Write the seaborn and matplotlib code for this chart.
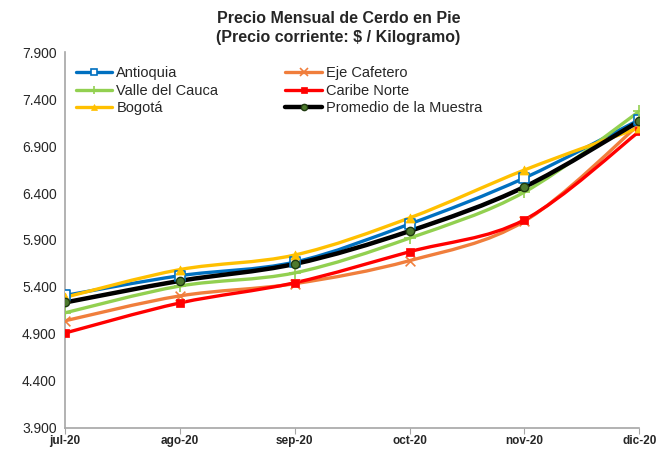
import numpy as np
import pandas as pd
import seaborn as sns
import matplotlib
matplotlib.use("Agg")
import matplotlib.pyplot as plt
from matplotlib.path import Path
from matplotlib.patches import PathPatch
from matplotlib.ticker import FuncFormatter
from matplotlib.lines import Line2D

months = ["jul-20", "ago-20", "sep-20", "oct-20", "nov-20", "dic-20"]

antioquia = [5310, 5520, 5665, 6070, 6560, 7180]
eje_cafetero = [5040, 5305, 5435, 5680, 6100, 7130]
valle_cauca = [5125, 5410, 5550, 5920, 6410, 7270]
caribe_norte = [4910, 5230, 5445, 5775, 6115, 7055]
bogota = [5290, 5585, 5740, 6135, 6645, 7095]
promedio = [5235, 5465, 5645, 5995, 6465, 7165]

series = ["Antioquia", "Eje Cafetero", "Valle del Cauca", "Caribe Norte", "Bogotá", "Promedio de la Muestra"]
values = [antioquia, eje_cafetero, valle_cauca, caribe_norte, bogota, promedio]

colors = {"Antioquia": "#0070C0", "Eje Cafetero": "#F07E3C", "Valle del Cauca": "#92D050",
          "Caribe Norte": "#FF0000", "Bogotá": "#FFC000", "Promedio de la Muestra": "#000000"}
styles = {
    "Antioquia": dict(marker="s", mfc="white", mec="#0070C0", ms=6.5, mew=1.2, lw=2.4),
    "Eje Cafetero": dict(marker="x", mfc="none", mec="#F07E3C", ms=7, mew=1.2, lw=2.4),
    "Valle del Cauca": dict(marker="+", mfc="none", mec="#92D050", ms=8, mew=1.2, lw=2.4),
    "Caribe Norte": dict(marker="s", mfc="#FF0000", mec="#FF0000", ms=6, mew=0.5, lw=2.4),
    "Bogotá": dict(marker="^", mfc="#FFC000", mec="#FFC000", ms=6.5, mew=0.5, lw=2.4),
    "Promedio de la Muestra": dict(marker="o", mfc="#4E7A2E", mec="#1f3a10", ms=6, mew=1.0, lw=3.2),
}

df = pd.DataFrame({"mes": np.tile(np.arange(len(months)), len(series)),
                   "serie": np.repeat(series, len(months)),
                   "precio": np.concatenate(values)})

sns.set_style("white")
plt.rcParams["font.family"] = ["Liberation Sans", "DejaVu Sans"]

fig = plt.figure(figsize=(6.57, 4.49), dpi=100)
ax = fig.add_axes([0.099, 0.047, 0.874, 0.837])


def smooth_path(x, y):
    # Excel-like smoothed line: cubic Bezier through the points
    pts = np.column_stack([x, y]).astype(float)
    ext = np.vstack([pts[0], pts, pts[-1]])
    verts = [pts[0]]
    codes = [Path.MOVETO]
    for i in range(len(pts) - 1):
        p0, p1, p2, p3 = ext[i], ext[i + 1], ext[i + 2], ext[i + 3]
        c1 = p1 + (p2 - p0) / 6.0
        c2 = p2 - (p3 - p1) / 6.0
        verts += [c1, c2, p2]
        codes += [Path.CURVE4] * 3
    return Path(verts, codes)


handles = {}
for name in series:
    sub = df[df["serie"] == name]
    st = styles[name]
    ax.add_patch(PathPatch(smooth_path(sub["mes"], sub["precio"]), fc="none",
                           ec=colors[name], lw=st["lw"], capstyle="round", zorder=2))
    sns.scatterplot(data=sub, x="mes", y="precio", ax=ax, marker=st["marker"], s=st["ms"] ** 2,
                    color=st["mfc"] if st["mfc"] != "none" else st["mec"],
                    edgecolor=st["mec"], linewidth=st["mew"], zorder=3, legend=False)
    handles[name] = Line2D([0], [0], color=colors[name], lw=st["lw"], marker=st["marker"],
                           mfc=st["mfc"], mec=st["mec"], ms=st["ms"] * 0.75, mew=st["mew"])

ax.set_xlim(0, len(months) - 1)
ax.set_ylim(3900, 7900)
ax.set_yticks(np.arange(3900, 7901, 500))
ax.yaxis.set_major_formatter(FuncFormatter(lambda v, p: f"{int(v):,}".replace(",", ".")))
ax.set_xticks(range(len(months)))
ax.set_xticklabels(months, fontsize=8.5, fontweight="bold")
ax.tick_params(axis="y", labelsize=10, length=0, pad=6)
ax.tick_params(axis="x", length=4, color="#A6A6A6", direction="out", pad=1, bottom=True)
ax.set_xlabel("")
ax.set_ylabel("")
for s in ["top", "right"]:
    ax.spines[s].set_visible(False)
for s in ["left", "bottom"]:
    ax.spines[s].set_color("#A6A6A6")
    ax.spines[s].set_linewidth(1.2)

# row-wise legend order like the original (matplotlib fills by column)
order = series[0::2] + series[1::2]
ax.legend([handles[n] for n in order], order, ncol=2, frameon=False, loc="upper left",
          bbox_to_anchor=(0.003, 0.985), fontsize=10.5, handlelength=2.5, handletextpad=0.3,
          columnspacing=4.6, labelspacing=0.22, borderaxespad=0.2)

fig.text(0.515, 0.975, "Precio Mensual de Cerdo en Pie\n(Precio corriente: $ / Kilogramo)",
         ha="center", va="top", fontsize=11.5, fontweight="bold", linespacing=1.3)

fig.savefig("out.png", dpi=100)
